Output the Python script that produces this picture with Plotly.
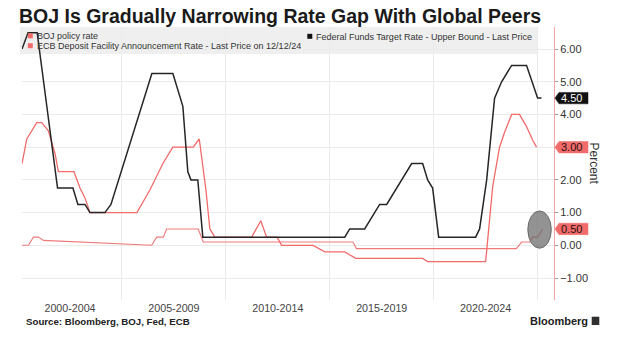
import plotly.graph_objects as go

# Policy rates in percent, dated as decimal years
fed_years = [2000.19, 2000.48, 2000.92, 2001.44, 2001.63, 2001.83, 2001.90, 2002.64, 2002.88,
             2003.22, 2003.46, 2004.18, 2004.47, 2006.44, 2007.45, 2007.93, 2008.17, 2008.32,
             2008.65, 2008.89, 2015.72, 2015.96, 2016.68, 2017.40, 2017.74, 2018.94, 2019.47,
             2019.71, 2019.95, 2020.24, 2022.02, 2022.21, 2022.55, 2022.93, 2023.27, 2023.75,
             2024.47, 2025.00, 2025.19]
fed_rate = [6.0, 6.5, 6.5, 3.9, 3.0, 2.0, 1.75, 1.75, 1.25,
            1.25, 1.0, 1.0, 1.25, 5.25, 5.25, 4.25, 2.25, 2.0,
            2.0, 0.25, 0.25, 0.5, 0.5, 1.25, 1.25, 2.5, 2.5,
            2.0, 1.75, 0.25, 0.25, 0.5, 2.0, 4.5, 5.0, 5.5,
            5.5, 4.5, 4.5]

ecb_years = [2000.19, 2000.42, 2000.90, 2001.14, 2001.46, 2001.78, 2001.94, 2002.69, 2002.98,
             2003.22, 2003.46, 2005.72, 2006.35, 2006.63, 2006.97, 2007.45, 2008.43, 2008.72,
             2009.04, 2009.23, 2009.47, 2011.24, 2011.68, 2011.96, 2012.47, 2012.68, 2014.20,
             2014.76, 2015.72, 2016.25, 2019.47, 2019.71, 2022.50, 2022.84, 2023.17, 2023.41,
             2023.75, 2024.13, 2024.47, 2024.76, 2024.95]
ecb_rate = [2.5, 3.25, 3.75, 3.75, 3.5, 2.8, 2.25, 2.25, 1.75,
            1.45, 1.0, 1.0, 1.7, 2.05, 2.5, 3.0, 3.0, 3.25,
            1.7, 0.5, 0.25, 0.25, 0.75, 0.25, 0.25, 0.0, 0.0,
            -0.2, -0.2, -0.4, -0.4, -0.5, -0.5, 1.8, 3.0, 3.45,
            4.0, 4.0, 3.63, 3.22, 3.0]

boj_years = [2000.19, 2000.50, 2000.74, 2000.98, 2001.22, 2006.43, 2006.67, 2006.99, 2007.15,
             2008.67, 2008.91, 2016.12, 2016.28, 2023.98, 2024.23, 2024.62, 2024.76, 2025.00,
             2025.24]
boj_rate = [0.0, 0.0, 0.25, 0.25, 0.15, 0.0, 0.25, 0.25, 0.5,
            0.5, 0.1, 0.1, -0.1, -0.1, 0.1, 0.1, 0.25, 0.25,
            0.5]

period_centers = [2002.5, 2007.5, 2012.5, 2017.5, 2022.5]
period_labels = ["2000-2004", "2005-2009", "2010-2014", "2015-2019", "2020-2024"]
y_ticks = [-1, 0, 1, 2, 3, 4, 5, 6]

# Highlighted window around the latest BOJ moves
highlight_years = (2024.53, 2025.66)
highlight_rates = (-0.09, 1.05)

W, H = 626, 348
ML, MR, MT, MB = 22, 72, 27, 48
PW, PH = W - ML - MR, H - MT - MB


def fx(px):
    return (px - ML) / PW


def fy(py):
    return (H - MB - py) / PH


RED = "#f26b6b"
BOJ_RED = "#f07a7a"
BLACK = "#262626"
FONT = "Liberation Sans"

fig = go.Figure()
fig.add_trace(go.Scatter(x=boj_years, y=boj_rate, mode="lines",
                         line=dict(color=BOJ_RED, width=1.1), name="BOJ policy rate"))
fig.add_trace(go.Scatter(x=ecb_years, y=ecb_rate, mode="lines",
                         line=dict(color=RED, width=1.3),
                         name="ECB Deposit Facility Announcement Rate - Last Price on 12/12/24"))
fig.add_trace(go.Scatter(x=fed_years, y=fed_rate, mode="lines",
                         line=dict(color=BLACK, width=1.5),
                         name="Federal Funds Target Rate - Upper Bound - Last Price"))

shapes = []
annotations = []

# legend panel
shapes.append(dict(type="rect", xref="paper", yref="paper", x0=fx(20), x1=fx(537),
                   y0=fy(54), y1=fy(27), fillcolor="#efefef", line=dict(width=0),
                   layer="between"))
legend_items = [
    ("BOJ policy rate", RED, 30.3, 35.8, 35, 36.3),
    ("ECB Deposit Facility Announcement Rate - Last Price on 12/12/24", RED, 30.3, 45.7, 35, 45.9),
    ("Federal Funds Target Rate - Upper Bound - Last Price", "#111111", 309.8, 36.3, 314, 36.5),
]
for text, col, sx, sy, tx, ty in legend_items:
    shapes.append(dict(type="rect", xref="paper", yref="paper",
                       x0=fx(sx - 2.5), x1=fx(sx + 2.5), y0=fy(sy + 2.5), y1=fy(sy - 2.5),
                       fillcolor=col, line=dict(width=0), layer="above"))
    annotations.append(dict(text=text, xref="paper", yref="paper", x=fx(tx), y=fy(ty),
                            xanchor="left", yanchor="middle", showarrow=False,
                            font=dict(family=FONT, size=9, color="#333333")))

# ellipse marking the recent BOJ hikes
shapes.append(dict(type="circle", xref="x", yref="y",
                   x0=highlight_years[0], x1=highlight_years[1],
                   y0=highlight_rates[0], y1=highlight_rates[1],
                   fillcolor="rgba(105,105,105,0.72)", line=dict(color="#6a6a6a", width=1),
                   layer="above"))

# last-value flags on the right axis
flags = [(fed_rate[-1], "#111111", "#ffffff"),
         (ecb_rate[-1], RED, "#2a1010"),
         (boj_rate[-1], RED, "#2a1010")]
for val, fill, tcol in flags:
    shapes.append(dict(type="path", xref="paper", yref="y",
                       xsizemode="pixel", ysizemode="pixel", xanchor=1, yanchor=val,
                       path="M1,0 L5,5.7 L34,5.7 L34,-5.7 L5,-5.7 Z",
                       fillcolor=fill, line=dict(color=fill, width=0.5), layer="above"))
    annotations.append(dict(text=f"{val:.2f}", xref="paper", yref="y", x=fx(558.5), y=val,
                            xanchor="left", yanchor="middle", showarrow=False,
                            font=dict(family=FONT, size=11, color=tcol)))

annotations.append(dict(text="Percent", xref="paper", yref="paper", x=fx(594.3), y=fy(163.8),
                        xanchor="center", yanchor="middle", textangle=90, showarrow=False,
                        font=dict(family=FONT, size=12, color="#333333")))

annotations.append(dict(text="BOJ Is Gradually Narrowing Rate Gap With Global Peers",
                        xref="paper", yref="paper", x=fx(17), y=fy(16.5),
                        xanchor="left", yanchor="middle", showarrow=False,
                        font=dict(family=FONT, size=19.5, color="#1a1a1a", weight="bold")))

annotations.append(dict(text="Source: Bloomberg, BOJ, Fed, ECB", xref="paper", yref="paper",
                        x=fx(24), y=fy(321.7), xanchor="left", yanchor="middle",
                        showarrow=False,
                        font=dict(family=FONT, size=9.7, color="#222222", weight="bold")))

annotations.append(dict(text="Bloomberg", xref="paper", yref="paper",
                        x=fx(527.5), y=fy(320.7), xanchor="left", yanchor="middle",
                        showarrow=False,
                        font=dict(family=FONT, size=11, color="#222222", weight="bold")))
shapes.append(dict(type="rect", xref="paper", yref="paper", x0=fx(591.7), x1=fx(599.3),
                   y0=fy(325), y1=fy(316.7), fillcolor="#2f2f2f", line=dict(width=0)))

fig.update_layout(
    width=W, height=H,
    margin=dict(l=ML, r=MR, t=MT, b=MB, pad=0),
    paper_bgcolor="white", plot_bgcolor="white",
    showlegend=False,
    shapes=shapes, annotations=annotations,
    xaxis=dict(range=[2000.19, 2025.79], tickmode="array", tickvals=period_centers,
               ticktext=period_labels, showgrid=False, zeroline=False, showline=False,
               ticks="", tickfont=dict(family=FONT, size=10.7, color="#444444"),
               minor=dict(tickmode="linear", tick0=2005, dtick=5, showgrid=True,
                          gridcolor="#ebebeb", gridwidth=1, ticks="")),
    yaxis=dict(side="right", range=[-1.672, 6.674], tickmode="array", tickvals=y_ticks,
               tickformat=".2f", ticks="outside", ticklen=3, tickcolor="#999999",
               tickfont=dict(family=FONT, size=11, color="#333333"),
               showline=True, linecolor="#f5a3a3", linewidth=1,
               showgrid=True, gridcolor="#ebebeb", gridwidth=1, zeroline=False),
)

fig.write_html("out.html")
